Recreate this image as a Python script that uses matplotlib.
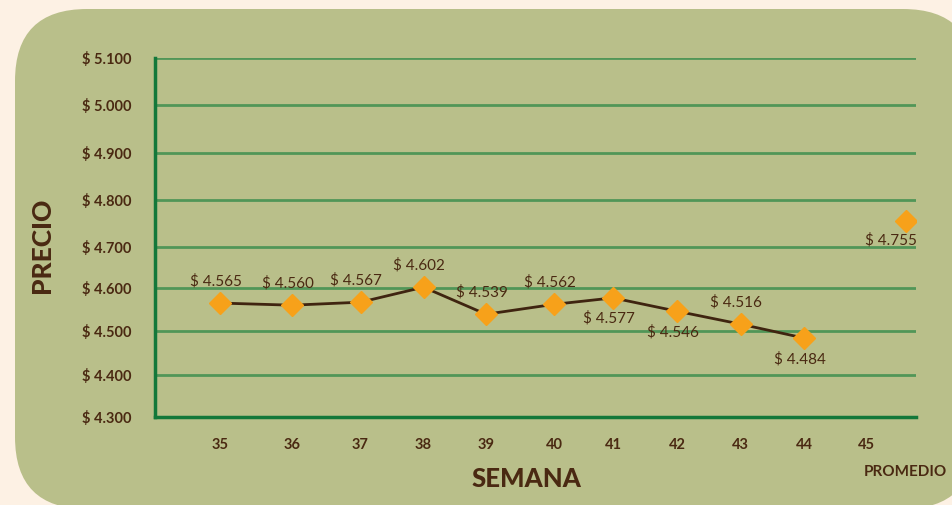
import matplotlib.pyplot as plt
import numpy as np
from matplotlib.patches import FancyBboxPatch

plt.rcParams['font.family'] = ['Lato', 'DejaVu Sans']

semanas = [35, 36, 37, 38, 39, 40, 41, 42, 43, 44]
precios = [4.565, 4.560, 4.567, 4.602, 4.539, 4.562, 4.577, 4.546, 4.516, 4.484]
etiquetas = ['$ 4.565', '$ 4.560', '$ 4.567', '$ 4.602', '$ 4.539',
             '$ 4.562', '$ 4.577', '$ 4.546', '$ 4.516', '$ 4.484']
arriba = [True, True, True, True, True, True, False, False, True, False]
promedio = 4.755
promedio_label = '$ 4.755'
yticks = [4.3, 4.4, 4.5, 4.6, 4.7, 4.8, 4.9, 5.0, 5.1]
ytick_labels = ['$ 4.300', '$ 4.400', '$ 4.500', '$ 4.600', '$ 4.700',
                '$ 4.800', '$ 4.900', '$ 5.000', '$ 5.100']
xticks = list(range(35, 46))

# the original chart is hand laid out: gridlines and weeks are spaced a bit unevenly
grid_pos = np.array([0, 42, 86, 129, 170, 217, 264, 312, 359], dtype=float)
x_vals = [34, 35, 36, 37, 38, 39, 40, 41, 42, 43, 44, 45, 46]
x_pos = np.array([0, 65, 137, 205.5, 268.5, 331, 399, 458, 522, 585.5, 649,
                  711, 761], dtype=float)

brown = '#4a2912'
cream = '#fdf1e4'
olive = '#b9bf8a'
orange = '#f7a11a'


def yfwd(v):
    return np.interp(v, yticks, grid_pos)


def yinv(p):
    return np.interp(p, grid_pos, yticks)


def xfwd(v):
    return np.interp(v, x_vals, x_pos)


def xinv(p):
    return np.interp(p, x_pos, x_vals)


fig = plt.figure(figsize=(9.52, 5.05), dpi=100, facecolor=cream)

# rounded background panel, drawn in pixel coords
bg_ax = fig.add_axes([0, 0, 1, 1], zorder=-1)
bg_ax.set_xlim(0, 952)
bg_ax.set_ylim(505, 0)
bg_ax.axis('off')
bg_ax.add_patch(FancyBboxPatch((15, 9), 960, 500,
                               boxstyle='round,pad=0,rounding_size=72',
                               facecolor=olive, edgecolor='none'))

ax = fig.add_axes([155 / 952, 88 / 505, 761 / 952, 359 / 505])
ax.set_facecolor('none')
ax.set_xscale('function', functions=(xfwd, xinv))
ax.set_yscale('function', functions=(yfwd, yinv))
ax.set_xlim(34, 46)
ax.set_ylim(4.3, 5.1)

for y in yticks[1:]:
    ax.axhline(y, color='#3f8f4f', lw=2, alpha=0.85, zorder=1)

for s in ['top', 'right']:
    ax.spines[s].set_visible(False)
for s in ['left', 'bottom']:
    ax.spines[s].set_color('#13783a')
    ax.spines[s].set_linewidth(2.5)

ax.plot(semanas, precios, color='#3f2410', lw=2, zorder=3)
ax.plot(semanas, precios, 'D', color=orange, ms=11, zorder=4)
x_prom = 45.8
ax.plot([x_prom], [promedio], 'D', color=orange, ms=11, zorder=4)

for x, y, t, up in zip(semanas, precios, etiquetas, arriba):
    dy = 16 if up else -15
    ax.annotate(t, (x, y), xytext=(-3, dy), textcoords='offset points',
                ha='center', va='center', fontsize=11, color=brown)
ax.annotate(promedio_label, (x_prom, promedio), xytext=(-11, -14),
            textcoords='offset points', ha='center', va='center',
            fontsize=11, color=brown)

ax.set_yticks(yticks)
ax.set_yticklabels(ytick_labels, fontsize=10.5, color=brown, fontweight='bold')
ax.set_yticks([], minor=True)
ax.set_xticks(xticks)
ax.set_xticklabels([str(x) for x in xticks], fontsize=10.5, color=brown,
                   fontweight='bold')
ax.set_xticks([], minor=True)
ax.tick_params(length=0, pad=17, axis='y')
ax.tick_params(length=0, pad=15, axis='x')

fig.text(905 / 952, 1 - 472 / 505, 'PROMEDIO', ha='center', va='center',
         fontsize=11, fontweight='bold', color=brown)
fig.text(526 / 952, 1 - 479 / 505, 'SEMANA', ha='center', va='center',
         fontsize=18.5, fontweight='black', color=brown)
fig.text(42 / 952, 1 - 245 / 505, 'PRECIO', ha='center', va='center',
         fontsize=19, fontweight='black', color=brown, rotation=90)

fig.savefig('out.png', dpi=100, facecolor=cream)
